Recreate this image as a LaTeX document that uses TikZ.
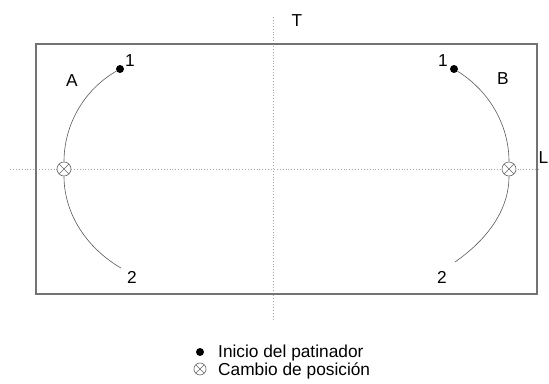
\documentclass[tikz,border=0pt]{standalone}
\usepackage{fontspec}
\setmainfont{Liberation Sans}
\begin{document}
\begin{tikzpicture}[x=1pt,y=1pt,
  every node/.style={font=\fontsize{17.3}{20}\selectfont, inner sep=0pt},
  frame/.style={draw=black!55, line width=1.2pt},
  axis/.style={draw=black!35, dotted, line width=0.9pt},
  path/.style={draw=black!65, line width=0.6pt, looseness=0.91},
  startdot/.style={circle, fill=black, minimum size=8pt, inner sep=0pt},
  swap/.style={circle, draw=black!60, fill=white, line width=0.6pt, minimum size=#1, inner sep=0pt,
    path picture={\draw[black!60, line width=0.6pt]
      (path picture bounding box.north west) -- (path picture bounding box.south east)
      (path picture bounding box.north east) -- (path picture bounding box.south west);}},
  swap/.default=14pt]
\useasboundingbox (0,0) rectangle (549,-383);
% dotted axes
\coordinate (vt) at (273,-17);
\coordinate (vb) at (273,-320);
\coordinate (hl) at (10,-169);
\coordinate (hr) at (538,-169);
\draw[axis] (vt) -- (vb);
\draw[axis] (hl) -- (hr);
% rink frame
\draw[frame] (36,-44) rectangle (537,-294);
% labels
\node (T) at (297,-21) {T};
\node[anchor=east] (L) at (548.5,-158) {L};
\node (A) at (72,-81) {A};
\node (B) at (503,-79) {B};
% left path
\node[startdot] (a1) at (120,-69) {};
\node[swap] (ax) at (64,-169) {};
\coordinate (a2) at (121,-268);
\node (a1l) at (130,-61) {1};
\node (a2l) at (132,-277) {2};
\draw[path] (a1) to[out=210,in=90] (ax);
\draw[path] (ax) to[out=270,in=150] (a2);
% right path
\node[startdot] (b1) at (454,-69) {};
\node[swap] (bx) at (509,-169) {};
\coordinate (b2) at (455,-262);
\node (b1l) at (443,-61) {1};
\node (b2l) at (442,-277) {2};
\draw[path] (b1) to[out=-32,in=90] (bx);
\draw[path] (bx) to[out=270,in=35] (b2);
% legend
\node[startdot] (k1) at (200,-352) {};
\node[anchor=base west] (k1t) at (218,-357) {Inicio del patinador};
\node[swap=12pt] (k2) at (200,-369) {};
\node[anchor=base west] (k2t) at (218,-375) {Cambio de posición};
\end{tikzpicture}
\end{document}
